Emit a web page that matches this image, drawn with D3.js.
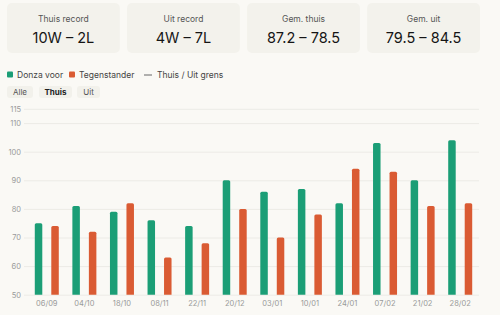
<!DOCTYPE html>
<html>
<head>
<meta charset="utf-8">
<script src="https://cdn.jsdelivr.net/npm/d3@7"></script>
<style>
  body { margin: 0; background: #faf9f5; font-family: Inter, "Noto Sans", sans-serif; }
  svg { display: block; }
</style>
</head>
<body>
<div id="chart"></div>
<script>
// Summary cards
const cardLabels = ["Thuis record", "Uit record", "Gem. thuis", "Gem. uit"];
const cardValues = ["10W – 2L", "4W – 7L", "87.2 – 78.5", "79.5 – 84.5"];

// Games (home filter)
const dates = ["06/09", "04/10", "18/10", "08/11", "22/11", "20/12", "03/01", "10/01", "24/01", "07/02", "21/02", "28/02"];
const donzaScores = [75, 81, 79, 76, 74, 90, 86, 87, 82, 103, 90, 104];
const opponentScores = [74, 72, 82, 63, 68, 80, 70, 78, 94, 93, 81, 82];
const yTicks = [50, 60, 70, 80, 90, 100, 110, 115];

const seriesNames = ["Donza voor", "Tegenstander"];
const colors = ["#1b9e76", "#da5b33"];
const filters = ["Alle", "Thuis", "Uit"];
const activeFilter = "Thuis";

const width = 500;
const height = 315;

const svg = d3
  .select("#chart")
  .append("svg")
  .attr("width", width)
  .attr("height", height)
  .attr("viewBox", [0, 0, width, height]);

// Cards
const cardX = d3.scaleBand().domain(cardLabels).range([7, 480]).paddingInner(0.06);
const cards = svg
  .selectAll("g.card")
  .data(cardLabels)
  .join("g")
  .attr("class", "card")
  .attr("transform", (d) => `translate(${cardX(d)},3)`);

cards
  .append("rect")
  .attr("width", cardX.bandwidth())
  .attr("height", 50)
  .attr("rx", 5)
  .attr("fill", "#f3f2ec");

cards
  .append("text")
  .attr("x", cardX.bandwidth() / 2)
  .attr("y", 18.5)
  .attr("text-anchor", "middle")
  .attr("font-size", 8.5)
  .attr("fill", "#555")
  .text((d) => d);

cards
  .append("text")
  .attr("x", cardX.bandwidth() / 2)
  .attr("y", 40)
  .attr("text-anchor", "middle")
  .attr("font-size", 14.5)
  .attr("font-weight", 400)
  .attr("fill", "#151515")
  .text((d, i) => cardValues[i]);

// Legend
const legend = svg.append("g").attr("transform", "translate(7,75)");
const legendX = [0, 62];
seriesNames.forEach((name, i) => {
  const g = legend.append("g").attr("transform", `translate(${legendX[i]},0)`);
  g.append("rect").attr("y", -3.5).attr("width", 6).attr("height", 6).attr("rx", 1).attr("fill", colors[i]);
  g.append("text").attr("x", 10).attr("y", 3).attr("font-size", 8.5).attr("fill", "#444").text(name);
});
legend.append("line").attr("x1", 137).attr("x2", 145).attr("y1", 0).attr("y2", 0).attr("stroke", "#666").attr("stroke-width", 1);
legend.append("text").attr("x", 150).attr("y", 3).attr("font-size", 8.5).attr("fill", "#444").text("Thuis / Uit grens");

// Filter buttons
const btnX = [7, 39, 77];
const btnW = [26, 33, 23];
const buttons = svg
  .selectAll("g.btn")
  .data(filters)
  .join("g")
  .attr("class", "btn")
  .attr("transform", (d, i) => `translate(${btnX[i]},86)`);
buttons
  .append("rect")
  .attr("width", (d, i) => btnW[i])
  .attr("height", 12)
  .attr("rx", 3)
  .attr("fill", "#f2f1eb");
buttons
  .append("text")
  .attr("x", (d, i) => btnW[i] / 2)
  .attr("y", 9)
  .attr("text-anchor", "middle")
  .attr("font-size", 8)
  .attr("font-weight", (d) => (d === activeFilter ? 700 : 400))
  .attr("fill", (d) => (d === activeFilter ? "#222" : "#555"))
  .text((d) => d);

// Scales
const x = d3.scaleBand().domain(dates).range([28, 479]);
const y = d3.scaleLinear().domain([50, 115]).range([294.7, 108.8]);

// Gridlines + y labels
const yAxis = svg
  .append("g")
  .attr("transform", "translate(24,0)")
  .call(d3.axisLeft(y).tickValues(yTicks).tickSize(0).tickPadding(3))
  .call((g) => g.select(".domain").remove());
yAxis.selectAll(".tick text").attr("font-size", 7.5).attr("fill", "#999").attr("font-family", "Inter, sans-serif");
yAxis
  .selectAll(".tick line")
  .attr("x2", 455)
  .attr("stroke", "#ecebe6")
  .attr("stroke-width", 1);

// X labels
const xAxis = svg
  .append("g")
  .attr("transform", `translate(0,${y(50)})`)
  .call(d3.axisBottom(x).tickSize(0).tickPadding(6))
  .call((g) => g.select(".domain").remove());
xAxis.selectAll(".tick text").attr("font-size", 7.5).attr("fill", "#999").attr("font-family", "Inter, sans-serif");

// Bars
const barW = 7.5;
const offsets = [-12, 4.5];
const topRoundedBar = (x0, y0, w, h, r) =>
  `M${x0},${y0 + h}V${y0 + r}Q${x0},${y0} ${x0 + r},${y0}H${x0 + w - r}Q${x0 + w},${y0} ${x0 + w},${y0 + r}V${y0 + h}Z`;

[donzaScores, opponentScores].forEach((values, si) => {
  svg
    .append("g")
    .selectAll("path")
    .data(values)
    .join("path")
    .attr("fill", colors[si])
    .attr("d", (v, i) => {
      const cx = x(dates[i]) + x.bandwidth() / 2 + offsets[si];
      return topRoundedBar(cx, y(v), barW, y(50) - y(v), 1.5);
    });
});
</script>
</body>
</html>
